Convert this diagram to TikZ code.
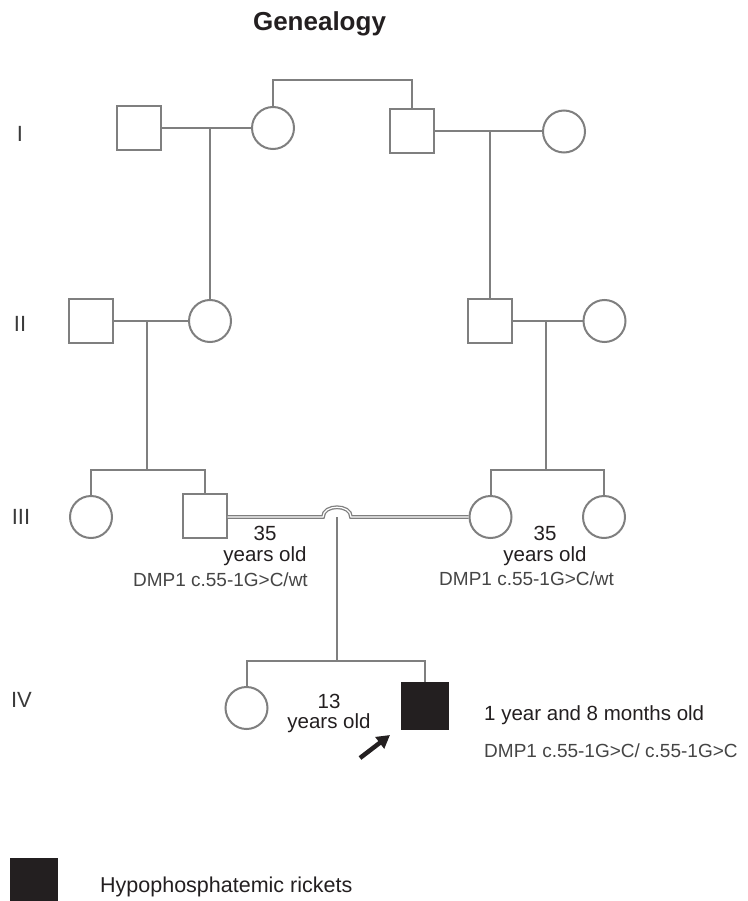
\documentclass[tikz,border=0pt]{standalone}
\usepackage{fontspec}
\setmainfont{Liberation Sans}
\usetikzlibrary{arrows.meta}
\definecolor{lg}{HTML}{7F7F7F}
\definecolor{ink}{HTML}{231F20}
\definecolor{lab}{HTML}{3A3A3A}
\definecolor{gene}{HTML}{454545}
\begin{document}
\begin{tikzpicture}[x=1pt,y=-1pt,
  lin/.style={draw=lg, line width=2pt},
  male/.style={rectangle, draw=lg, line width=2pt, minimum size=44pt, inner sep=0pt},
  female/.style={circle, draw=lg, line width=2pt, minimum size=42pt, inner sep=0pt},
  affm/.style={rectangle, fill=ink, draw=ink, line width=1pt, minimum size=47pt, inner sep=0pt},
  gen/.style={text=lab, font=\fontsize{22}{24}\selectfont, inner sep=0pt},
  txt/.style={text=ink, font=\fontsize{20.5}{23}\selectfont, inner sep=0pt, anchor=base},
  dmp/.style={text=gene, font=\fontsize{19}{22}\selectfont, inner sep=0pt, anchor=base},
  dbl/.style={draw=lg, line width=1.3pt, double=white, double distance=1.2pt},
]
\useasboundingbox (0,0) rectangle (747,901);

% title
\node[font=\bfseries\fontsize{26}{28}\selectfont, text=ink, anchor=base, inner sep=0pt] (title) at (319.5,31) {Genealogy};

% generation labels
\node[gen] (gI)   at (20,133.5) {I};
\node[gen] (gII)  at (20,324) {II};
\node[gen] (gIII) at (21,517) {III};
\node[gen] (gIV)  at (21.5,699.5) {IV};

% generation I
\node[male]   (A) at (139,128) {};
\node[female] (B) at (273,128) {};
\node[male]   (C) at (411.5,131.5) {};
\node[female] (D) at (564,131.5) {};

% generation II
\node[male]   (IIA) at (90.5,321) {};
\node[female] (IIB) at (210,321) {};
\node[male]   (IIC) at (490,321) {};
\node[female] (IID) at (604.5,321) {};

% generation III
\node[female] (IIIA) at (91,517) {};
\node[male]   (IIIB) at (204.5,516) {};
\node[female] (IIIC) at (490.5,517) {};
\node[female] (IIID) at (604,517) {};

% generation IV
\node[female] (IVA) at (246.5,708) {};
\node[affm]   (IVB) at (425,705.5) {};

% helper coordinates
\coordinate (top) at (340,80);
\coordinate (m1) at (210,128);
\coordinate (m2) at (490,131.5);
\coordinate (m3) at (147,321);
\coordinate (m4) at (546,321);
\coordinate (s3) at (147,470);
\coordinate (s4) at (546,470);
\coordinate (hopL) at (323,517);
\coordinate (hopR) at (351,517);
\coordinate (hop) at (337,517);
\coordinate (s5) at (337,661);

% gen I connections
\draw[lin] (B.north) -- (B.north |- top) -| (C.north);
\draw[lin] (A) -- (B);
\draw[lin] (C) -- (D);
\draw[lin] (m1) -- (m1 |- IIB.north);
\draw[lin] (m2) -- (m2 |- IIC.north);

% gen II connections
\draw[lin] (IIA) -- (IIB);
\draw[lin] (IIC) -- (IID);
\draw[lin] (m3) -- (s3);
\draw[lin] (m4) -- (s4);
\draw[lin] (IIIA.north) |- (s3) -| (IIIB.north);
\draw[lin] (IIIC.north) |- (s4) -| (IIID.north);

% consanguineous marriage with hop
\draw[dbl] (IIIB.east |- hop) -- (hopL) .. controls (323,504) and (351,504) .. (hopR) -- (IIIC.west);
\draw[lin] (hop) -- (s5);
\draw[lin] (IVA.north) |- (s5) -| (IVB.north);

% proband arrow
\coordinate (arS) at (360,758);
\coordinate (arE) at (390,735);
\draw[draw=ink, line width=4.5pt, -{Triangle[length=13pt,width=14pt]}] (arS) -- (arE);

% texts gen III
\node[txt] (t35a) at (265,540) {35};
\node[txt] (ya)   at (265,561) {years old};
\node[dmp, anchor=base east] (da) at (308,586) {DMP1 c.55-1G>C/wt};
\node[txt] (t35b) at (545,540) {35};
\node[txt] (yb)   at (545,561) {years old};
\node[dmp, anchor=base west] (db) at (439,585) {DMP1 c.55-1G>C/wt};

% texts gen IV
\node[txt] (t13) at (329,708) {13};
\node[txt] (yc)  at (329,728) {years old};
\node[txt, anchor=base west] (age) at (484,720) {1 year and 8 months old};
\node[dmp, anchor=base west] (dc) at (484,757) {DMP1 c.55-1G>C/ c.55-1G>C};

% legend
\node[rectangle, fill=ink, minimum width=48pt, minimum height=43pt, inner sep=0pt] (leg) at (34,879.5) {};
\node[txt, anchor=base west, font=\fontsize{21.5}{24}\selectfont] (legt) at (100,892) {Hypophosphatemic rickets};
\end{tikzpicture}
\end{document}
